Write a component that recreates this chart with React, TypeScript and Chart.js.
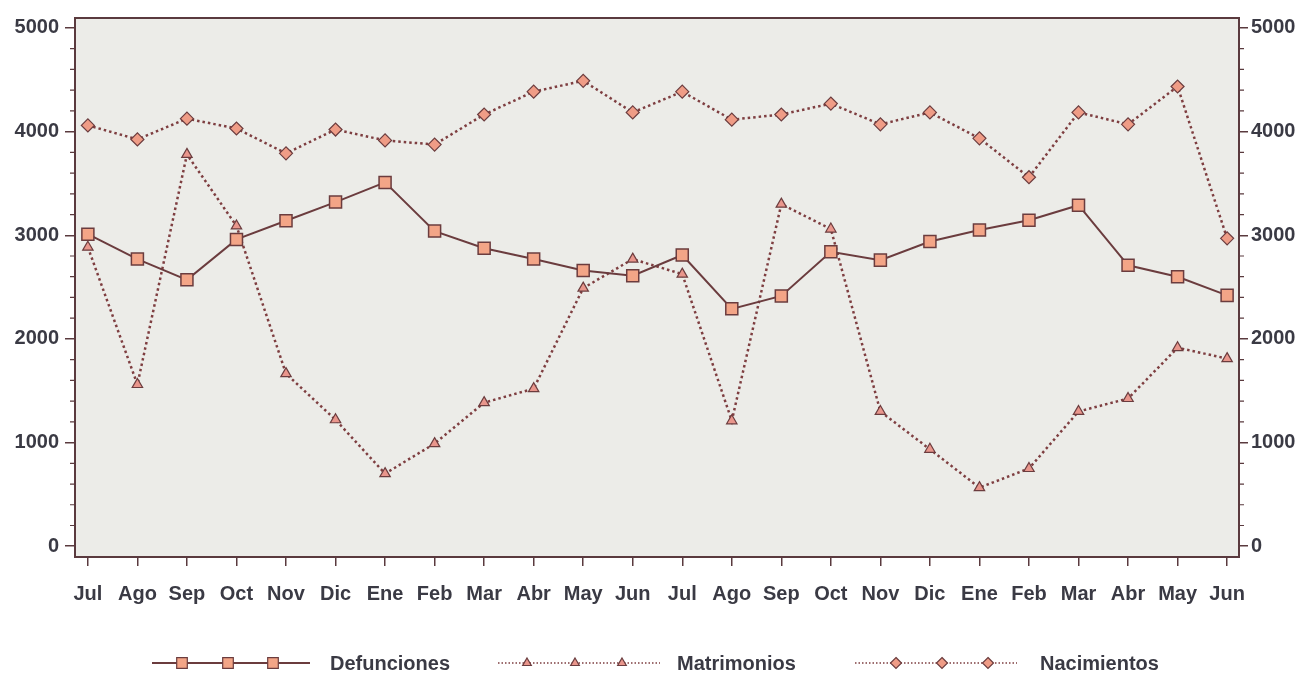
import React, { useEffect, useRef } from "react";
import { Chart, registerables } from "chart.js";

Chart.register(...registerables);

const months = [
  "Jul", "Ago", "Sep", "Oct", "Nov", "Dic", "Ene", "Feb", "Mar", "Abr", "May", "Jun",
  "Jul", "Ago", "Sep", "Oct", "Nov", "Dic", "Ene", "Feb", "Mar", "Abr", "May", "Jun",
];

const defunciones = [
  3010, 2770, 2570, 2960, 3140, 3320, 3510, 3040, 2875, 2770, 2660, 2610,
  2810, 2290, 2415, 2840, 2760, 2940, 3050, 3145, 3290, 2710, 2600, 2420,
];

const matrimonios = [
  2885, 1560, 3780, 3090, 1665, 1220, 700, 990, 1385, 1520, 2490, 2770,
  2625, 1210, 3300, 3060, 1300, 935, 565, 750, 1300, 1425, 1915, 1810,
];

const nacimientos = [
  4060, 3925, 4125, 4030, 3790, 4020, 3915, 3875, 4165, 4385, 4490, 4185,
  4385, 4115, 4165, 4270, 4070, 4185, 3935, 3560, 4185, 4070, 4435, 2970,
];

const yTickValues = [0, 1000, 2000, 3000, 4000, 5000];
const seriesNames = ["Defunciones", "Matrimonios", "Nacimientos"];

const TEXT = "#3a3a44";
const AXIS = "#5a3a3e";
const FONT = "'Liberation Sans', Arial, sans-serif";

function drawMarker(ctx: CanvasRenderingContext2D, style: string, x: number, y: number, r: number, fill: string, stroke: string) {
  ctx.save();
  ctx.beginPath();
  if (style === "rect") {
    const s = r * Math.SQRT1_2;
    ctx.rect(x - s, y - s, 2 * s, 2 * s);
  } else if (style === "triangle") {
    ctx.moveTo(x, y - r);
    ctx.lineTo(x + r * 0.866, y + r * 0.5);
    ctx.lineTo(x - r * 0.866, y + r * 0.5);
    ctx.closePath();
  } else {
    ctx.moveTo(x, y - r);
    ctx.lineTo(x + r, y);
    ctx.lineTo(x, y + r);
    ctx.lineTo(x - r, y);
    ctx.closePath();
  }
  ctx.fillStyle = fill;
  ctx.fill();
  ctx.strokeStyle = stroke;
  ctx.lineWidth = 1.2;
  ctx.setLineDash([]);
  ctx.stroke();
  ctx.restore();
}

const framePlugin = {
  id: "frame",
  beforeDatasetsDraw(chart: any) {
    const { ctx, chartArea } = chart;
    const { left, top, right, bottom } = chartArea;
    ctx.save();
    ctx.strokeStyle = AXIS;
    ctx.lineWidth = 2;
    ctx.strokeRect(left, top, right - left, bottom - top);
    const yl = chart.scales.y;
    ctx.lineWidth = 1.2;
    for (let v = 200; v < 5000; v += 200) {
      if (v % 1000 === 0) continue;
      const py = yl.getPixelForValue(v);
      ctx.beginPath();
      ctx.moveTo(left - 5, py);
      ctx.lineTo(left, py);
      ctx.moveTo(right, py);
      ctx.lineTo(right + 5, py);
      ctx.stroke();
    }
    ctx.restore();
  },
  beforeDraw(chart: any) {
    const { ctx, chartArea } = chart;
    const { left, top, right, bottom } = chartArea;
    ctx.save();
    ctx.fillStyle = "#ffffff";
    ctx.fillRect(0, 0, chart.width, chart.height);
    ctx.fillStyle = "#ecece8";
    ctx.fillRect(left, top, right - left, bottom - top);
    ctx.restore();
  },
};

const legendPlugin = {
  id: "customLegend",
  afterDraw(chart: any) {
    const ctx = chart.ctx as CanvasRenderingContext2D;
    const y = 663;
    const items = [
      { x0: 152, x1: 310, marks: [182, 228, 273], tx: 330 },
      { x0: 498, x1: 660, marks: [527, 575, 622], tx: 677 },
      { x0: 855, x1: 1017, marks: [896, 942, 988], tx: 1040 },
    ];
    chart.data.datasets.forEach((ds: any, i: number) => {
      const it = items[i];
      ctx.save();
      ctx.strokeStyle = ds.borderColor;
      ctx.lineWidth = i === 0 ? 2 : 1.5;
      ctx.setLineDash(i === 0 ? [] : [1.5, 2]);
      ctx.beginPath();
      ctx.moveTo(it.x0, y);
      ctx.lineTo(it.x1, y);
      ctx.stroke();
      ctx.restore();
      const r = i === 0 ? 7.5 : i === 1 ? 5 : 5.5;
      it.marks.forEach((mx) =>
        drawMarker(ctx, ds.pointStyle, mx, y, r, ds.pointBackgroundColor, ds.pointBorderColor)
      );
      ctx.save();
      ctx.fillStyle = TEXT;
      ctx.font = `bold 20px ${FONT}`;
      ctx.textBaseline = "middle";
      ctx.fillText(ds.label, it.tx, y + 1);
      ctx.restore();
    });
  },
};

export default function App() {
  const ref = useRef<HTMLCanvasElement | null>(null);

  useEffect(() => {
    document.body.style.margin = "0";
    const canvas = ref.current!;
    const toPts = (arr: number[]) => arr.map((v, i) => ({ x: i, y: v }));
    const yTicks = (scale: any) => {
      scale.ticks = yTickValues.map((v) => ({ value: v }));
    };
    const yFont = { family: FONT, size: 20, weight: "bold" };
    const chart = new Chart(canvas, {
      type: "line",
      data: {
        datasets: [
          {
            label: seriesNames[0],
            data: toPts(defunciones),
            borderColor: "#6b3c3e",
            borderWidth: 2,
            pointStyle: "rect",
            pointRadius: 8.5,
            pointBackgroundColor: "#f3a587",
            pointBorderColor: "#6b3c3e",
            pointBorderWidth: 1.5,
            tension: 0,
          },
          {
            label: seriesNames[1],
            data: toPts(matrimonios),
            borderColor: "#7e3e40",
            borderWidth: 2.5,
            borderDash: [2.5, 3],
            pointStyle: "triangle",
            pointRadius: 6,
            pointBackgroundColor: "#e9968c",
            pointBorderColor: "#6b3c3e",
            pointBorderWidth: 1.2,
            tension: 0,
          },
          {
            label: seriesNames[2],
            data: toPts(nacimientos),
            borderColor: "#7e3e40",
            borderWidth: 2.5,
            borderDash: [2.5, 3],
            pointStyle: "rectRot",
            pointRadius: 6.5,
            pointBackgroundColor: "#ef9c86",
            pointBorderColor: "#6b3c3e",
            pointBorderWidth: 1.2,
            tension: 0,
          },
        ],
      },
      options: {
        responsive: false,
        animation: false,
        events: [],
        layout: { padding: { top: 15, left: 0, right: 0, bottom: 0 } },
        plugins: {
          legend: { display: false },
          tooltip: { enabled: false },
        },
        scales: {
          x: {
            type: "linear",
            min: -0.26,
            max: 23.24,
            afterBuildTicks: (scale: any) => {
              scale.ticks = months.map((_, i) => ({ value: i }));
            },
            afterFit: (scale: any) => {
              scale.height = 121;
            },
            grid: {
              drawOnChartArea: false,
              drawTicks: true,
              tickLength: 9,
              color: AXIS,
              lineWidth: 1.5,
            },
            border: { display: false },
            ticks: {
              autoSkip: false,
              maxRotation: 0,
              padding: 16,
              color: TEXT,
              font: { family: FONT, size: 20, weight: "bold" },
              callback: (v: any) => months[Number(v)] ?? "",
            },
          },
          y: {
            position: "left",
            min: -104,
            max: 5096,
            afterBuildTicks: yTicks,
            afterFit: (scale: any) => {
              scale.width = 75;
            },
            grid: {
              drawOnChartArea: false,
              tickLength: 10,
              color: AXIS,
              lineWidth: 1.5,
            },
            border: { display: false },
            ticks: {
              padding: 6,
              color: TEXT,
              font: yFont,
              callback: (v: any) => String(v),
            },
          },
          y1: {
            position: "right",
            min: -104,
            max: 5096,
            afterBuildTicks: yTicks,
            afterFit: (scale: any) => {
              scale.width = 66;
            },
            grid: {
              drawOnChartArea: false,
              tickLength: 9,
              color: AXIS,
              lineWidth: 1.5,
            },
            border: { display: false },
            ticks: {
              padding: 3,
              color: TEXT,
              font: yFont,
              callback: (v: any) => String(v),
            },
          },
        },
      },
      plugins: [framePlugin, legendPlugin],
    } as any);
    return () => chart.destroy();
  }, []);

  return (
    <div style={{ width: 1305, height: 678, position: "relative" }}>
      <canvas ref={ref} width={1305} height={678} style={{ display: "block" }} />
    </div>
  );
}
